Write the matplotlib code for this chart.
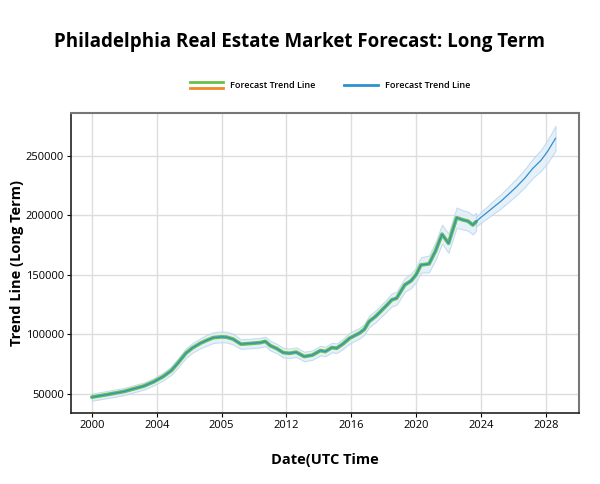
import numpy as np
import matplotlib
matplotlib.use('Agg')
import matplotlib.pyplot as plt
from matplotlib.lines import Line2D
from matplotlib.legend_handler import HandlerBase

#%% data (decimal years)
hist_year = [2000.0, 2001.0, 2002.0, 2002.5, 2003.2, 2003.8, 2004.4, 2004.9, 2005.3,
             2005.8, 2006.2, 2006.7, 2007.1, 2007.5, 2008.0, 2008.3, 2008.7, 2009.2,
             2009.8, 2010.4, 2010.7, 2011.0, 2011.4, 2011.8, 2012.2, 2012.6, 2013.1,
             2013.6, 2014.1, 2014.4, 2014.8, 2015.1, 2015.5, 2015.9, 2016.5, 2016.8,
             2017.1, 2017.5, 2017.8, 2018.2, 2018.5, 2018.8, 2019.3, 2019.7, 2020.0,
             2020.3, 2020.8, 2021.2, 2021.6, 2022.0, 2022.5, 2022.9, 2023.2, 2023.5, 2023.7]
hist_value = [47200, 49500, 52000, 53900, 56500, 60000, 64500, 69500, 75700,
              84100, 88500, 92500, 95000, 97200, 97800, 97600, 96000, 91700,
              92300, 93000, 94000, 90500, 88000, 84600, 84000, 85000, 81300,
              82500, 86300, 85500, 88800, 88300, 92000, 96700, 100900, 104000,
              110700, 115000, 119000, 124500, 128900, 130300, 141400, 145000, 150000,
              158200, 159100, 170000, 184000, 176400, 197900, 196000, 195000, 191800, 194500]
hist_band = [3000, 3000, 3000, 3000, 3000, 3000, 3200, 3500, 3800,
             4000, 4000, 4200, 4500, 4500, 4500, 4500, 4500, 4000,
             4000, 4000, 4000, 4000, 4000, 4000, 4000, 4000, 4000,
             4000, 4000, 4000, 4000, 4000, 4200, 4500, 4500, 4500,
             4800, 5000, 5000, 5200, 5500, 5500, 5800, 6000, 6000,
             6500, 7000, 7500, 8000, 8000, 8500, 8000, 8000, 8000, 7500]

fc_year = [2023.7, 2024.0, 2024.4, 2024.8, 2025.2, 2025.7, 2026.2, 2026.7, 2027.2,
           2027.7, 2028.1, 2028.6]
fc_value = [194500, 198200, 202500, 207000, 211300, 217500, 223900, 231000, 239300,
            246000, 253300, 264500]
fc_band = [4000, 4500, 5000, 5500, 6000, 6500, 7000, 7500, 8000, 8800, 9500, 10500]

tick_years = [2000, 2004, 2008, 2012, 2016, 2020, 2024, 2028]
tick_labels = ['2000', '2004', '2005', '2012', '2016', '2020', '2024', '2028']
y_ticks = [50000, 100000, 150000, 200000, 250000]

#%%
class StackedLines(HandlerBase):
    '''two short lines one above the other, like the first legend entry'''
    def create_artists(self, legend, orig_handle, xdescent, ydescent, width, height,
                       fontsize, trans):
        top = Line2D([0, width], [height * 1.0, height * 1.0], color='#6abf4b', lw=2)
        bot = Line2D([0, width], [height * 0.0, height * 0.0], color='#f08a24', lw=2)
        top.set_transform(trans)
        bot.set_transform(trans)
        return [top, bot]

hist_year = np.array(hist_year)
hist_value = np.array(hist_value)
hist_band = np.array(hist_band)
fc_year = np.array(fc_year)
fc_value = np.array(fc_value)
fc_band = np.array(fc_band)

fig = plt.figure(figsize=(6, 4.84), dpi=100)
ax1 = fig.add_axes([0.118, 0.147, 0.847, 0.62])

ax1.fill_between(hist_year, hist_value - hist_band, hist_value + hist_band,
                 color='#deebf7', alpha=0.75, lw=0.8, edgecolor='#b5d4ee')
ax1.fill_between(fc_year, fc_value - fc_band, fc_value + fc_band,
                 color='#deebf7', alpha=0.75, lw=0.8, edgecolor='#b5d4ee')
ax1.plot(hist_year, hist_value, color='#6abf4b', lw=2.7, solid_capstyle='round')
ax1.plot(hist_year, hist_value, color='#2f8fd0', lw=0.9)
ax1.plot(fc_year, fc_value, color='#2f8fd0', lw=0.9)

ax1.set_xlim(1998.7, 2030.05)
ax1.set_ylim(34000, 286000)
ax1.set_xticks(tick_years)
ax1.set_xticklabels(tick_labels, fontsize=8, family='Open Sans')
ax1.set_yticks(y_ticks)
ax1.set_yticklabels([str(v) for v in y_ticks], fontsize=8, family='Open Sans')
ax1.grid(True, color='#dddddd', lw=1)
ax1.set_axisbelow(True)
for s in ['top', 'right']:
    ax1.spines[s].set_color('#777777')
    ax1.spines[s].set_linewidth(1.5)
for s in ['left', 'bottom']:
    ax1.spines[s].set_color('#222222')
    ax1.spines[s].set_linewidth(1.2)
ax1.tick_params(length=3, width=0.8, pad=2)

ax1.set_xlabel('Date(UTC Time', fontsize=10.5, fontweight='bold', family='Open Sans', labelpad=16)
ax1.set_ylabel('Trend Line (Long Term)', fontsize=10.5, fontweight='bold', family='Open Sans', labelpad=1)

fig.text(0.5, 0.913, 'Philadelphia Real Estate Market Forecast: Long Term',
         ha='center', va='center', fontsize=13.5, fontweight='bold', family='Open Sans')

h1 = Line2D([], [], color='#6abf4b')
h2 = Line2D([], [], color='#2f8fd0', lw=2)
fig.legend([h1, h2], ['Forecast Trend Line', 'Forecast Trend Line'],
           handler_map={h1: StackedLines()}, loc='center', bbox_to_anchor=(0.55, 0.823),
           ncol=2, frameon=False, handlelength=3.7, columnspacing=3.2,
           prop={'family': 'Open Sans', 'size': 6.5, 'weight': 'semibold'})

plt.savefig('out.png', dpi=100)
